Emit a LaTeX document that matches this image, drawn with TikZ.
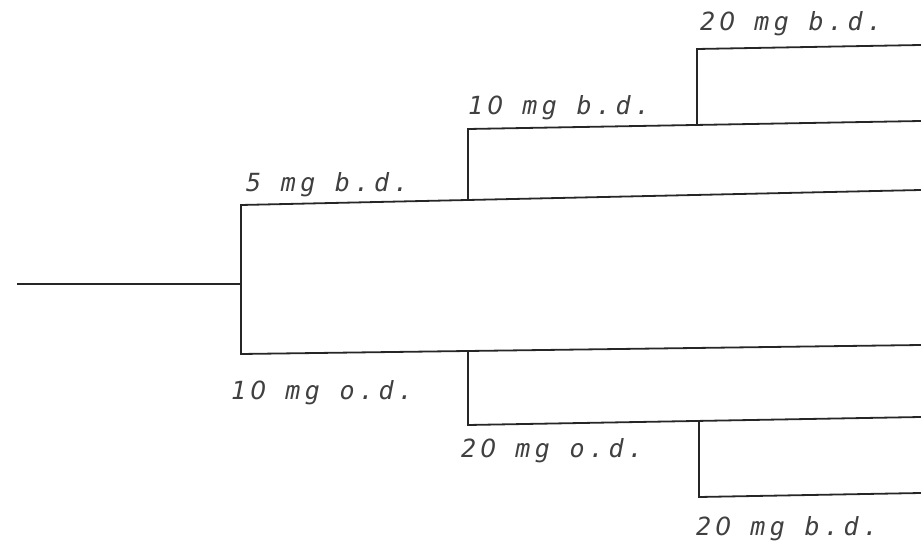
\documentclass[tikz,border=0pt]{standalone}
\usepackage{fontspec}
\usepackage{tikz}
\newfontfamily\plotfont[LetterSpace=18]{DejaVu Sans Mono Oblique}
\newfontfamily\zerofont{DejaVu Sans Oblique}
% plain zero in a mono cell
\newcommand\zro{\kern0.18em\makebox[0.602em][c]{\zerofont 0}}
\tikzset{
  branch/.style={line width=1.8pt, draw=black!85},
  dose/.style={font=\plotfont\fontsize{25pt}{25pt}\selectfont, text=black!75,
               inner sep=0pt, anchor=base west},
}
\begin{document}
\begin{tikzpicture}[x=1pt, y=-1pt]
  \useasboundingbox (0,0) rectangle (921,545);
  % branch points
  \coordinate (start) at (17,284);
  \coordinate (split) at (241,284);
  \coordinate (bd5) at (241,205);   \coordinate (bd5end) at (921,190);
  \coordinate (od10) at (241,354);  \coordinate (od10end) at (921,345);
  \coordinate (bd5fork) at (468,200);
  \coordinate (bd10) at (468,129);  \coordinate (bd10end) at (921,121);
  \coordinate (bd10fork) at (697,125);
  \coordinate (bd20a) at (697,49);  \coordinate (bd20aend) at (921,45);
  \coordinate (od10fork) at (468,351);
  \coordinate (od20) at (468,425);  \coordinate (od20end) at (921,417);
  \coordinate (od20fork) at (699,421);
  \coordinate (bd20b) at (699,497); \coordinate (bd20bend) at (921,493);
  % tree
  \draw[branch] (start) -- (split);
  \draw[branch] (bd5end) -- (bd5) -- (od10) -- (od10end);
  \draw[branch] (bd5fork) -- (bd10) -- (bd10end);
  \draw[branch] (bd10fork) -- (bd20a) -- (bd20aend);
  \draw[branch] (od10fork) -- (od20) -- (od20end);
  \draw[branch] (od20fork) -- (bd20b) -- (bd20bend);
  % labels
  \node[dose] (lbd20a) at (700,31) {2\zro{} mg b.d.};
  \node[dose] (lbd10) at (468,115) {1\zro{} mg b.d.};
  \node[dose] (lbd5) at (246,192) {5 mg b.d.};
  \node[dose] (lod10) at (231,399) {1\zro{} mg o.d.};
  \node[dose] (lod20) at (461,457) {2\zro{} mg o.d.};
  \node[dose] (lbd20b) at (696,535) {2\zro{} mg b.d.};
\end{tikzpicture}
\end{document}
